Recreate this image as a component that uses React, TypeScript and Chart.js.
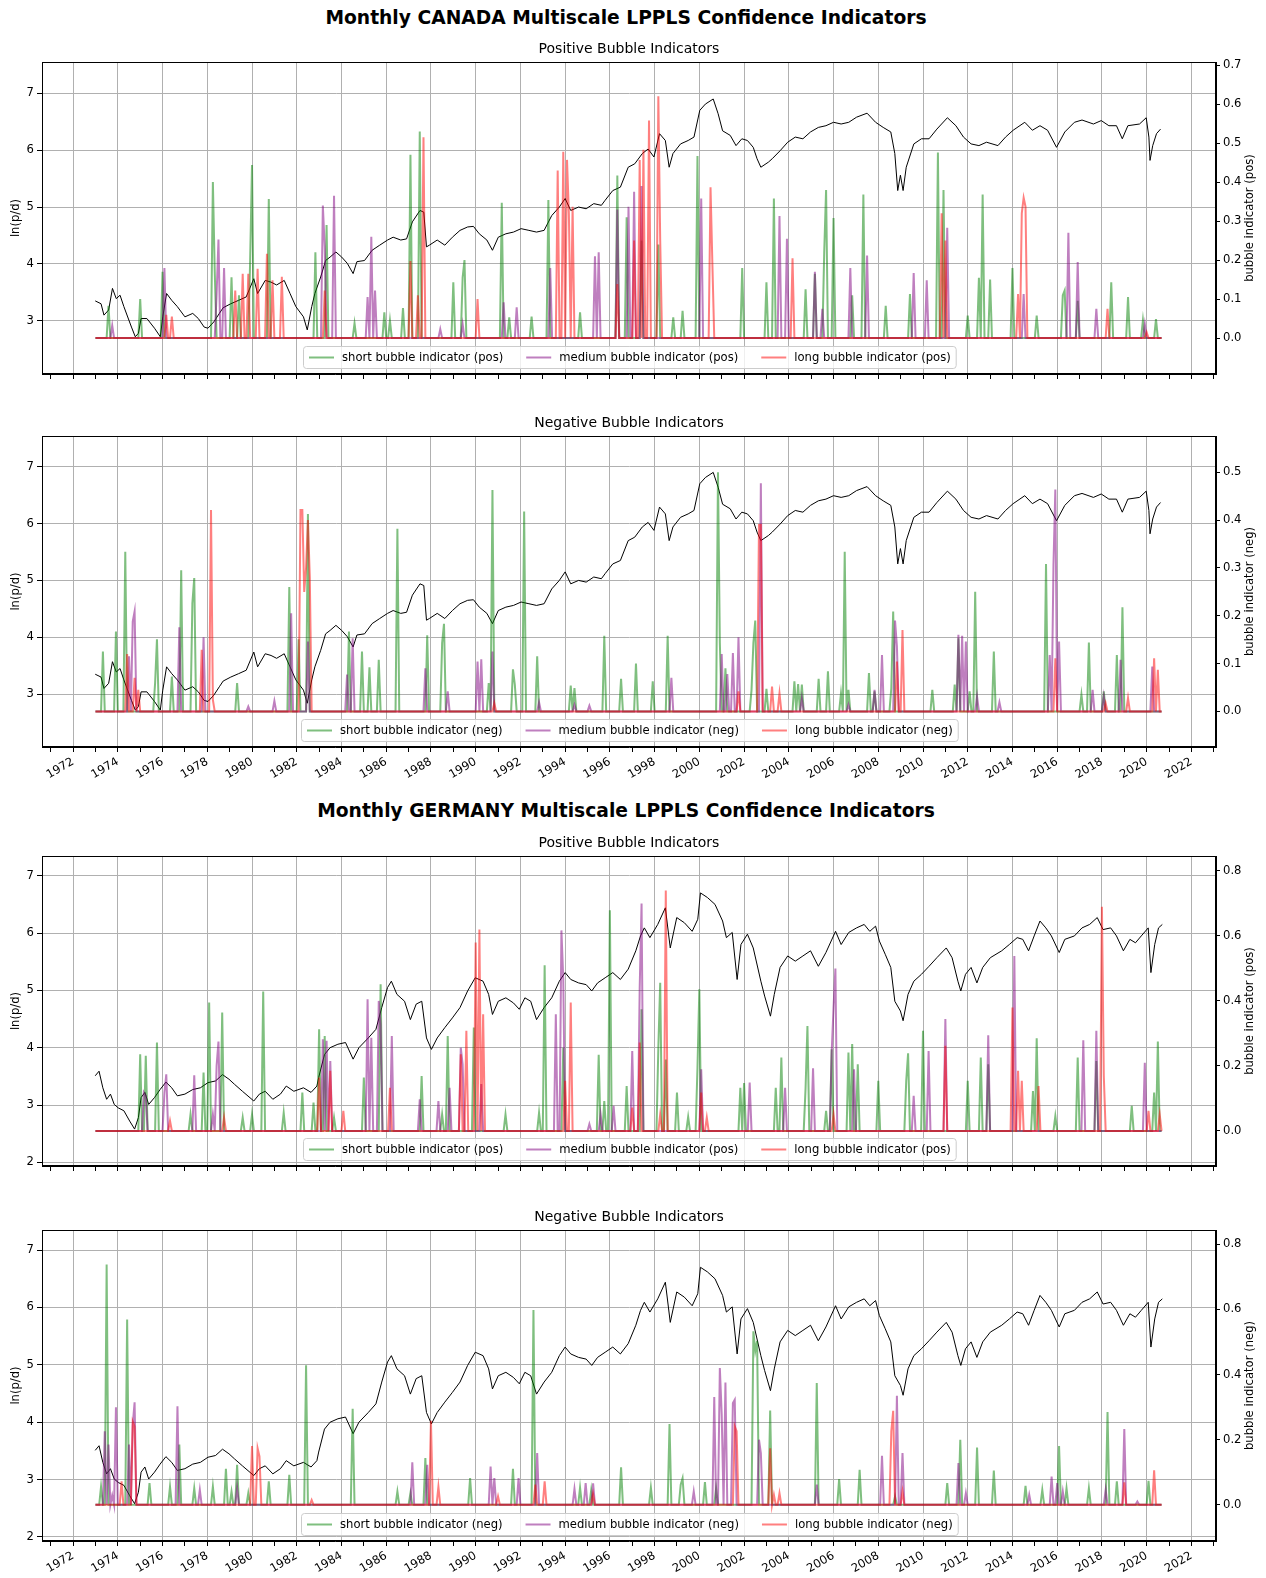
import React, { useEffect, useRef } from 'react';
import { Chart, registerables } from 'chart.js';

Chart.register(...registerables);

const FONT_FAMILY = '"DejaVu Sans", "Liberation Sans", sans-serif';
const GRID_COLOR = '#b0b0b0';
const GREEN = 'rgba(0,128,0,0.5)';
const PURPLE = 'rgba(128,0,128,0.5)';
const RED = 'rgba(255,0,0,0.5)';

const START_YEAR = 1973;
const MONTH_COUNT = 573;

const YEAR_TICKS = [1971, 1972, 1973, 1974, 1975, 1976, 1977, 1978, 1979, 1980, 1981, 1982, 1983, 1984, 1985, 1986, 1987, 1988, 1989, 1990, 1991, 1992, 1993, 1994, 1995, 1996, 1997, 1998, 1999, 2000, 2001, 2002, 2003, 2004, 2005, 2006, 2007, 2008, 2009, 2010, 2011, 2012, 2013, 2014, 2015, 2016, 2017, 2018, 2019, 2020, 2021, 2022, 2023];
const LEFT_TICKS = [2, 3, 4, 5, 6, 7];
const RIGHT_TICKS_CA_POS = [0, 0.1, 0.2, 0.3, 0.4, 0.5, 0.6, 0.7];
const RIGHT_TICKS_CA_NEG = [0, 0.1, 0.2, 0.3, 0.4, 0.5];
const RIGHT_TICKS_DE = [0, 0.2, 0.4, 0.6, 0.8];

// ln(p/d) — Canada
const CANADA_LN_PD = [
  [1972.99, 3.35], [1973.25, 3.30], [1973.38, 3.10], [1973.59, 3.19], [1973.76, 3.57], [1973.93, 3.39], [1974.10, 3.45], [1974.27, 3.25], [1974.61, 2.89], [1974.78, 2.72], [1974.92, 2.78], [1975.04, 3.04], [1975.30, 3.04], [1975.64, 2.87], [1975.90, 2.72], [1976.01, 3.07], [1976.18, 3.48], [1976.41, 3.36], [1976.66, 3.25], [1977.00, 3.07], [1977.35, 3.13], [1977.60, 3.04], [1977.86, 2.89], [1978.03, 2.87], [1978.29, 2.98], [1978.54, 3.13], [1978.71, 3.23], [1979.05, 3.30], [1979.40, 3.36], [1979.74, 3.42], [1980.08, 3.74], [1980.25, 3.48], [1980.59, 3.71], [1980.85, 3.68], [1981.10, 3.63], [1981.44, 3.71], [1981.70, 3.48], [1981.96, 3.25], [1982.30, 3.07], [1982.47, 2.84], [1982.67, 3.25], [1982.81, 3.48], [1983.07, 3.77], [1983.29, 4.06], [1983.49, 4.12], [1983.75, 4.21], [1984.01, 4.12], [1984.26, 4.01], [1984.52, 3.83], [1984.69, 4.04], [1985.03, 4.06], [1985.37, 4.24], [1985.71, 4.33], [1986.06, 4.42], [1986.31, 4.47], [1986.65, 4.42], [1986.91, 4.44], [1987.17, 4.74], [1987.51, 4.94], [1987.68, 4.91], [1987.80, 4.30], [1987.93, 4.33], [1988.28, 4.42], [1988.62, 4.33], [1988.96, 4.47], [1989.30, 4.59], [1989.64, 4.65], [1989.90, 4.66], [1990.16, 4.53], [1990.50, 4.42], [1990.75, 4.24], [1991.01, 4.47], [1991.35, 4.53], [1991.69, 4.56], [1992.03, 4.62], [1992.38, 4.59], [1992.72, 4.56], [1993.06, 4.59], [1993.40, 4.85], [1993.74, 5.00], [1994.00, 5.15], [1994.25, 4.94], [1994.60, 5.00], [1994.94, 4.97], [1995.28, 5.06], [1995.62, 5.03], [1995.79, 5.12], [1996.13, 5.29], [1996.47, 5.35], [1996.82, 5.70], [1997.11, 5.76], [1997.45, 5.94], [1997.71, 6.02], [1997.97, 5.88], [1998.22, 6.29], [1998.48, 6.17], [1998.65, 5.70], [1998.82, 5.94], [1999.16, 6.11], [1999.50, 6.17], [1999.76, 6.23], [2000.02, 6.70], [2000.27, 6.81], [2000.62, 6.90], [2000.84, 6.64], [2001.04, 6.34], [2001.38, 6.26], [2001.64, 6.08], [2001.90, 6.20], [2002.15, 6.17], [2002.41, 6.05], [2002.58, 5.85], [2002.75, 5.70], [2003.09, 5.79], [2003.26, 5.85], [2003.61, 5.99], [2003.95, 6.14], [2004.29, 6.23], [2004.63, 6.20], [2004.97, 6.32], [2005.32, 6.40], [2005.66, 6.43], [2006.00, 6.49], [2006.34, 6.46], [2006.68, 6.49], [2007.03, 6.58], [2007.50, 6.65], [2007.88, 6.49], [2008.22, 6.40], [2008.56, 6.32], [2008.74, 5.94], [2008.87, 5.29], [2008.99, 5.56], [2009.11, 5.29], [2009.25, 5.70], [2009.59, 6.11], [2009.93, 6.20], [2010.27, 6.20], [2010.62, 6.37], [2011.09, 6.57], [2011.47, 6.43], [2011.81, 6.23], [2012.15, 6.11], [2012.50, 6.08], [2012.84, 6.14], [2013.35, 6.08], [2013.69, 6.23], [2014.03, 6.35], [2014.55, 6.49], [2014.89, 6.35], [2015.23, 6.43], [2015.57, 6.35], [2015.97, 6.05], [2016.34, 6.32], [2016.77, 6.49], [2017.11, 6.53], [2017.62, 6.46], [2017.97, 6.52], [2018.31, 6.43], [2018.65, 6.43], [2018.91, 6.20], [2019.16, 6.43], [2019.68, 6.46], [2019.98, 6.57], [2020.10, 6.23], [2020.15, 5.82], [2020.27, 6.08], [2020.44, 6.29], [2020.62, 6.37],
];

// ln(p/d) — Germany
const GERMANY_LN_PD = [
  [1972.99, 3.51], [1973.16, 3.59], [1973.33, 3.30], [1973.50, 3.10], [1973.67, 3.19], [1973.84, 3.01], [1974.02, 2.95], [1974.27, 2.90], [1974.53, 2.72], [1974.75, 2.58], [1974.92, 2.78], [1975.04, 3.13], [1975.21, 3.22], [1975.38, 3.01], [1975.64, 3.13], [1975.89, 3.27], [1976.15, 3.40], [1976.41, 3.30], [1976.66, 3.16], [1977.00, 3.19], [1977.35, 3.27], [1977.69, 3.30], [1978.03, 3.39], [1978.37, 3.42], [1978.68, 3.53], [1978.97, 3.45], [1979.22, 3.36], [1979.57, 3.24], [1980.08, 3.07], [1980.33, 3.19], [1980.59, 3.24], [1980.93, 3.10], [1981.27, 3.19], [1981.53, 3.33], [1981.87, 3.24], [1982.30, 3.30], [1982.64, 3.22], [1982.90, 3.33], [1982.98, 3.48], [1983.24, 3.88], [1983.49, 4.00], [1983.84, 4.06], [1984.18, 4.09], [1984.52, 3.80], [1984.78, 4.00], [1985.20, 4.17], [1985.54, 4.32], [1985.80, 4.70], [1986.06, 5.05], [1986.23, 5.16], [1986.48, 4.93], [1986.82, 4.81], [1987.08, 4.49], [1987.34, 4.76], [1987.59, 4.81], [1987.80, 4.17], [1988.02, 3.97], [1988.28, 4.17], [1988.62, 4.35], [1988.96, 4.52], [1989.30, 4.70], [1989.64, 4.99], [1989.98, 5.22], [1990.33, 5.16], [1990.58, 4.93], [1990.75, 4.58], [1991.01, 4.81], [1991.35, 4.87], [1991.69, 4.78], [1991.95, 4.67], [1992.20, 4.87], [1992.46, 4.81], [1992.72, 4.49], [1993.06, 4.70], [1993.40, 4.87], [1993.74, 5.16], [1994.00, 5.31], [1994.25, 5.19], [1994.60, 5.13], [1994.94, 5.10], [1995.19, 4.99], [1995.45, 5.13], [1995.79, 5.22], [1996.13, 5.31], [1996.47, 5.19], [1996.82, 5.37], [1997.16, 5.69], [1997.37, 5.95], [1997.54, 6.09], [1997.79, 5.92], [1998.14, 6.15], [1998.48, 6.44], [1998.70, 5.74], [1998.99, 6.27], [1999.33, 6.18], [1999.68, 6.03], [1999.93, 6.24], [2000.05, 6.70], [2000.36, 6.62], [2000.70, 6.50], [2001.04, 6.21], [2001.21, 5.92], [2001.47, 6.01], [2001.69, 5.19], [2001.86, 5.80], [2002.15, 5.98], [2002.41, 5.74], [2002.75, 5.16], [2002.92, 4.90], [2003.18, 4.55], [2003.35, 4.93], [2003.61, 5.40], [2003.95, 5.60], [2004.29, 5.51], [2004.63, 5.60], [2004.97, 5.69], [2005.32, 5.42], [2005.66, 5.66], [2006.09, 6.03], [2006.34, 5.80], [2006.68, 6.01], [2007.03, 6.09], [2007.37, 6.15], [2007.62, 6.03], [2007.88, 6.12], [2008.05, 5.86], [2008.31, 5.63], [2008.56, 5.40], [2008.74, 4.81], [2008.99, 4.64], [2009.11, 4.47], [2009.33, 4.93], [2009.59, 5.16], [2009.93, 5.28], [2010.27, 5.42], [2010.62, 5.57], [2011.04, 5.74], [2011.30, 5.57], [2011.56, 5.16], [2011.69, 4.99], [2011.90, 5.28], [2012.15, 5.40], [2012.41, 5.13], [2012.67, 5.40], [2013.01, 5.57], [2013.52, 5.69], [2013.86, 5.80], [2014.21, 5.92], [2014.46, 5.89], [2014.72, 5.69], [2014.97, 5.95], [2015.23, 6.21], [2015.49, 6.09], [2015.74, 5.95], [2016.09, 5.66], [2016.34, 5.89], [2016.77, 5.95], [2017.11, 6.09], [2017.45, 6.15], [2017.79, 6.27], [2018.05, 6.06], [2018.39, 6.09], [2018.65, 5.95], [2018.96, 5.69], [2019.25, 5.89], [2019.50, 5.83], [2019.76, 5.95], [2020.07, 6.09], [2020.19, 5.31], [2020.36, 5.80], [2020.53, 6.09], [2020.70, 6.15],
];

// Canada positive indicators [year, value]
const CA_POS_SHORT = [
  [1973.59, 0.083], [1975.04, 0.10], [1976.01, 0.17], [1978.23, 0.40], [1978.37, 0.17], [1979.05, 0.156], [1979.40, 0.11], [1979.91, 0.20], [1980.04, 0.444], [1980.71, 0.357], [1982.81, 0.22], [1983.32, 0.29], [1984.60, 0.038], [1985.92, 0.066], [1986.14, 0.045], [1986.77, 0.077], [1987.12, 0.47], [1987.54, 0.53], [1988.99, 0.143], [1989.39, 0.155], [1989.47, 0.20], [1991.13, 0.347], [1991.49, 0.053], [1992.50, 0.055], [1993.23, 0.354], [1994.66, 0.066], [1996.30, 0.417], [1996.75, 0.31], [1997.45, 0.25], [1998.14, 0.24], [1998.82, 0.053], [1999.21, 0.07], [1999.93, 0.467], [2001.90, 0.18], [2003.01, 0.143], [2003.35, 0.358], [2004.72, 0.125], [2005.15, 0.165], [2005.57, 0.22], [2005.66, 0.38], [2006.03, 0.308], [2006.85, 0.11], [2007.32, 0.368], [2008.31, 0.083], [2009.42, 0.113], [2010.70, 0.476], [2010.92, 0.38], [2012.02, 0.058], [2012.53, 0.155], [2012.67, 0.368], [2012.97, 0.15], [2014.03, 0.18], [2015.06, 0.058], [2016.26, 0.11], [2016.34, 0.122], [2016.94, 0.096], [2018.39, 0.143], [2019.13, 0.105], [2019.85, 0.046], [2020.44, 0.049],
];
const CA_POS_MEDIUM = [
  [1973.76, 0.032], [1976.12, 0.18], [1978.40, 0.113], [1978.54, 0.253], [1978.76, 0.18], [1983.15, 0.34], [1983.29, 0.234], [1983.67, 0.365], [1985.17, 0.105], [1985.37, 0.26], [1985.54, 0.122], [1988.41, 0.023], [1989.44, 0.036], [1991.21, 0.092], [1991.83, 0.079], [1993.31, 0.18], [1995.36, 0.21], [1995.54, 0.22], [1996.30, 0.33], [1996.85, 0.337], [1997.07, 0.375], [1997.42, 0.39], [2000.05, 0.358], [2003.61, 0.313], [2003.91, 0.255], [2005.15, 0.17], [2005.49, 0.075], [2006.77, 0.18], [2007.50, 0.212], [2009.59, 0.167], [2010.19, 0.148], [2011.09, 0.283], [2014.46, 0.113], [2016.51, 0.27], [2016.94, 0.195], [2017.76, 0.075], [2019.93, 0.036],
];
const CA_POS_LONG = [
  [1976.15, 0.06], [1976.40, 0.055], [1979.22, 0.122], [1979.57, 0.165], [1979.82, 0.165], [1980.22, 0.178], [1980.68, 0.216], [1980.90, 0.148], [1981.36, 0.157], [1983.24, 0.122], [1987.12, 0.198], [1987.42, 0.11], [1987.68, 0.515], [1990.07, 0.10], [1993.66, 0.43], [1993.95, 0.478], [1994.08, 0.457], [1994.17, 0.32], [1994.34, 0.337], [1996.30, 0.139], [1997.11, 0.25], [1997.37, 0.457], [1997.49, 0.483], [1997.74, 0.558], [1998.19, 0.62], [1998.27, 0.25], [2000.48, 0.387], [2000.62, 0.19], [2004.17, 0.205], [2010.87, 0.32], [2011.04, 0.25], [2014.21, 0.113], [2014.38, 0.32], [2014.51, 0.36], [2014.58, 0.337], [2018.27, 0.075], [2020.02, 0.015],
];

// Canada negative indicators
const CA_NEG_SHORT = [
  [1973.37, 0.125], [1973.93, 0.167], [1974.34, 0.334], [1975.67, 0.059], [1975.77, 0.151], [1976.41, 0.073], [1976.87, 0.295], [1977.32, 0.226], [1977.40, 0.279], [1979.34, 0.059], [1981.65, 0.26], [1982.06, 0.151], [1982.47, 0.413], [1984.35, 0.167], [1984.90, 0.125], [1985.29, 0.092], [1985.66, 0.108], [1986.50, 0.382], [1987.82, 0.159], [1988.53, 0.143], [1988.62, 0.183], [1990.58, 0.059], [1990.72, 0.463], [1991.66, 0.088], [1991.73, 0.056], [1992.19, 0.418], [1992.72, 0.115], [1994.22, 0.054], [1994.39, 0.049], [1995.71, 0.158], [1996.51, 0.068], [1997.19, 0.10], [1997.93, 0.063], [1998.56, 0.09], [1998.62, 0.158], [2000.82, 0.50], [2000.91, 0.143], [2001.13, 0.09], [2002.32, 0.045], [2002.41, 0.143], [2002.50, 0.19], [2003.04, 0.047], [2004.29, 0.063], [2004.38, 0.057], [2004.55, 0.056], [2005.32, 0.068], [2005.74, 0.084], [2006.31, 0.038], [2006.46, 0.334], [2006.65, 0.045], [2007.57, 0.08], [2007.85, 0.042], [2008.56, 0.049], [2008.65, 0.209], [2010.39, 0.045], [2011.42, 0.056], [2011.59, 0.153], [2012.12, 0.042], [2012.32, 0.25], [2013.18, 0.125], [2015.49, 0.308], [2017.11, 0.035], [2017.40, 0.144], [2018.10, 0.042], [2018.65, 0.07], [2018.70, 0.118], [2018.91, 0.218],
];
const CA_NEG_MEDIUM = [
  [1974.48, 0.115], [1974.66, 0.188], [1974.73, 0.209], [1976.75, 0.176], [1977.81, 0.155], [1979.82, 0.01], [1980.97, 0.022], [1981.79, 0.205], [1982.47, 0.146], [1984.26, 0.077], [1984.52, 0.153], [1987.76, 0.09], [1988.79, 0.042], [1990.07, 0.104], [1990.24, 0.109], [1990.75, 0.125], [1992.80, 0.019], [1994.39, 0.014], [1995.06, 0.012], [1998.74, 0.07], [2000.96, 0.12], [2001.21, 0.078], [2001.50, 0.122], [2001.76, 0.155], [2002.75, 0.477], [2004.60, 0.028], [2006.68, 0.014], [2007.85, 0.045], [2008.19, 0.118], [2008.77, 0.19], [2008.87, 0.136], [2011.61, 0.16], [2011.73, 0.158], [2011.90, 0.146], [2012.44, 0.031], [2013.44, 0.019], [2015.69, 0.118], [2015.86, 0.306], [2015.95, 0.464], [2016.05, 0.146], [2017.59, 0.045], [2018.10, 0.031], [2018.87, 0.108], [2020.24, 0.094],
];
const CA_NEG_LONG = [
  [1974.44, 0.12], [1974.78, 0.07], [1974.90, 0.045], [1977.77, 0.129], [1978.15, 0.421], [1978.29, 0.024], [1982.13, 0.421], [1982.21, 0.421], [1982.30, 0.25], [1982.38, 0.30], [1982.47, 0.40], [1982.55, 0.28], [1990.84, 0.017], [2001.73, 0.042], [2002.67, 0.39], [2002.75, 0.39], [2003.26, 0.052], [2003.57, 0.038], [2008.82, 0.104], [2009.11, 0.17], [2015.91, 0.111], [2018.14, 0.017], [2019.13, 0.028], [2020.36, 0.111], [2020.50, 0.087],
];

// Germany positive indicators
const DE_POS_SHORT = [
  [1975.04, 0.236], [1975.21, 0.231], [1975.77, 0.272], [1977.21, 0.051], [1977.82, 0.18], [1978.10, 0.395], [1978.64, 0.364], [1979.57, 0.041], [1980.04, 0.051], [1980.54, 0.429], [1981.44, 0.056], [1982.21, 0.118], [1982.71, 0.087], [1982.98, 0.313], [1983.24, 0.292], [1983.63, 0.041], [1985.00, 0.164], [1985.77, 0.451], [1987.56, 0.169], [1988.53, 0.051], [1988.76, 0.292], [1989.93, 0.318], [1991.35, 0.051], [1992.80, 0.056], [1993.11, 0.51], [1993.88, 0.256], [1995.54, 0.234], [1995.71, 0.092], [1996.00, 0.679], [1996.75, 0.138], [1997.45, 0.374], [1998.14, 0.256], [1998.22, 0.456], [1998.48, 0.22], [1998.96, 0.118], [1999.50, 0.043], [1999.93, 0.195], [2000.02, 0.436], [2001.86, 0.133], [2001.98, 0.147], [2003.44, 0.133], [2003.64, 0.226], [2004.72, 0.133], [2004.84, 0.323], [2005.66, 0.062], [2005.91, 0.251], [2006.68, 0.241], [2006.85, 0.267], [2007.11, 0.205], [2007.97, 0.154], [2009.25, 0.154], [2009.37, 0.239], [2010.02, 0.308], [2012.02, 0.154], [2012.58, 0.226], [2012.89, 0.205], [2014.89, 0.123], [2015.09, 0.285], [2015.88, 0.046], [2016.94, 0.226], [2017.76, 0.215], [2019.30, 0.077], [2020.32, 0.118], [2020.53, 0.275],
];
const DE_POS_MEDIUM = [
  [1975.13, 0.118], [1975.21, 0.108], [1976.06, 0.118], [1976.20, 0.174], [1977.41, 0.171], [1978.29, 0.051], [1978.40, 0.20], [1978.54, 0.275], [1983.15, 0.282], [1983.32, 0.277], [1983.49, 0.215], [1985.15, 0.405], [1985.37, 0.287], [1985.63, 0.40], [1985.71, 0.328], [1986.23, 0.292], [1987.51, 0.097], [1988.36, 0.092], [1988.87, 0.133], [1989.30, 0.256], [1989.39, 0.205], [1990.29, 0.144], [1993.57, 0.359], [1993.83, 0.617], [1993.95, 0.467], [1995.11, 0.021], [1995.59, 0.051], [1996.13, 0.077], [1997.04, 0.246], [1997.37, 0.44], [1997.45, 0.70], [2000.10, 0.19], [2002.21, 0.149], [2003.81, 0.133], [2005.11, 0.193], [2005.91, 0.241], [2006.00, 0.38], [2006.09, 0.50], [2006.94, 0.19], [2009.59, 0.108], [2010.22, 0.246], [2010.96, 0.344], [2012.92, 0.294], [2014.12, 0.538], [2017.20, 0.279], [2017.79, 0.308], [2019.93, 0.21],
];
const DE_POS_LONG = [
  [1976.32, 0.031], [1978.71, 0.041], [1983.03, 0.164], [1983.49, 0.185], [1984.09, 0.062], [1986.14, 0.133], [1989.30, 0.236], [1989.61, 0.308], [1989.98, 0.58], [1990.19, 0.62], [1990.33, 0.359], [1994.00, 0.154], [1994.25, 0.395], [1997.03, 0.072], [1997.37, 0.272], [1998.27, 0.051], [1998.51, 0.74], [2000.10, 0.118], [2000.36, 0.041], [2006.00, 0.051], [2010.96, 0.262], [2014.00, 0.38], [2014.29, 0.185], [2014.38, 0.154], [2015.15, 0.138], [2018.00, 0.69], [2018.10, 0.17], [2020.10, 0.062], [2020.62, 0.051],
];

// Germany negative indicators
const DE_NEG_SHORT = [
  [1973.25, 0.056], [1973.50, 0.738], [1974.44, 0.569], [1975.42, 0.067], [1976.37, 0.056], [1976.75, 0.185], [1977.40, 0.051], [1978.25, 0.056], [1978.81, 0.111], [1979.09, 0.041], [1979.34, 0.123], [1979.82, 0.036], [1980.76, 0.072], [1981.70, 0.092], [1982.44, 0.429], [1984.49, 0.295], [1986.48, 0.041], [1987.05, 0.036], [1987.73, 0.144], [1989.78, 0.082], [1991.69, 0.111], [1992.58, 0.598], [1994.68, 0.053], [1995.14, 0.046], [1996.51, 0.115], [1997.83, 0.053], [1998.65, 0.248], [1999.13, 0.062], [1999.21, 0.082], [2000.22, 0.07], [2000.74, 0.051], [2002.38, 0.533], [2002.46, 0.472], [2002.55, 0.503], [2003.15, 0.29], [2005.23, 0.374], [2006.26, 0.079], [2007.16, 0.108], [2008.77, 0.026], [2011.09, 0.067], [2011.69, 0.20], [2012.41, 0.176], [2013.18, 0.105], [2014.55, 0.058], [2015.32, 0.046], [2016.05, 0.181], [2016.43, 0.051], [2017.45, 0.051], [2018.22, 0.285], [2018.65, 0.072], [2020.10, 0.074],
];
const DE_NEG_MEDIUM = [
  [1973.42, 0.226], [1973.55, 0.185], [1973.71, 0.029], [1973.93, 0.30], [1974.48, 0.185], [1974.66, 0.246], [1974.75, 0.315], [1976.66, 0.303], [1977.69, 0.046], [1979.31, 0.053], [1987.17, 0.131], [1987.85, 0.123], [1990.67, 0.118], [1990.80, 0.082], [1991.95, 0.082], [1992.72, 0.159], [1994.39, 0.049], [1994.90, 0.067], [1995.28, 0.066], [1999.76, 0.041], [2000.70, 0.331], [2000.91, 0.42], [2001.04, 0.277], [2001.18, 0.376], [2001.52, 0.313], [2001.59, 0.323], [2002.67, 0.20], [2002.75, 0.159], [2005.28, 0.062], [2008.19, 0.151], [2008.87, 0.335], [2009.08, 0.159], [2011.61, 0.128], [2011.90, 0.036], [2014.75, 0.031], [2015.71, 0.087], [2016.00, 0.067], [2016.22, 0.041], [2018.14, 0.046], [2018.96, 0.233], [2019.59, 0.01],
];
const DE_NEG_LONG = [
  [1974.19, 0.072], [1974.70, 0.256], [1974.78, 0.241], [1979.99, 0.181], [1980.25, 0.174], [1980.33, 0.149], [1982.64, 0.015], [1987.97, 0.258], [1988.36, 0.056], [1991.01, 0.026], [1992.63, 0.062], [1993.06, 0.072], [1995.28, 0.033], [2001.56, 0.241], [2001.64, 0.226], [2003.15, 0.174], [2003.35, 0.031], [2003.57, 0.036], [2008.60, 0.226], [2008.70, 0.289], [2009.11, 0.041], [2018.96, 0.069], [2020.32, 0.106],
];

// Builds the monthly series (zero in months without an indicator reading)
function toMonthly(spikes) {
  const vals = new Array(MONTH_COUNT).fill(0);
  for (const [yr, v] of spikes) {
    const i = Math.round((yr - START_YEAR) * 12);
    if (i >= 0 && i < MONTH_COUNT) vals[i] = Math.max(vals[i], v);
  }
  return vals.map((v, i) => ({ x: START_YEAR + i / 12, y: v }));
}

const PANELS = [
  { key: 'ca-pos', top: 41, height: 343, subtitle: 'Positive Bubble Indicators', lnpd: CANADA_LN_PD, short: CA_POS_SHORT, medium: CA_POS_MEDIUM, long: CA_POS_LONG, sign: 'pos', leftMin: 2.065, leftMax: 7.55, rightMin: -0.092, rightMax: 0.708, rightTicks: RIGHT_TICKS_CA_POS, xAxisHeight: 10, showXLabels: false },
  { key: 'ca-neg', top: 415, height: 382, subtitle: 'Negative Bubble Indicators', lnpd: CANADA_LN_PD, short: CA_NEG_SHORT, medium: CA_NEG_MEDIUM, long: CA_NEG_LONG, sign: 'neg', leftMin: 2.07, leftMax: 7.54, rightMin: -0.0745, rightMax: 0.576, rightTicks: RIGHT_TICKS_CA_NEG, xAxisHeight: 50, showXLabels: true },
  { key: 'de-pos', top: 835, height: 341, subtitle: 'Positive Bubble Indicators', lnpd: GERMANY_LN_PD, short: DE_POS_SHORT, medium: DE_POS_MEDIUM, long: DE_POS_LONG, sign: 'pos', leftMin: 1.936, leftMax: 7.344, rightMin: -0.108, rightMax: 0.846, rightTicks: RIGHT_TICKS_DE, xAxisHeight: 10, showXLabels: false },
  { key: 'de-neg', top: 1209, height: 369, subtitle: 'Negative Bubble Indicators', lnpd: GERMANY_LN_PD, short: DE_NEG_SHORT, medium: DE_NEG_MEDIUM, long: DE_NEG_LONG, sign: 'neg', leftMin: 1.93, leftMax: 7.35, rightMin: -0.111, rightMax: 0.844, rightTicks: RIGHT_TICKS_DE, xAxisHeight: 37, showXLabels: true },
];

const SMALL_FONT = { family: FONT_FAMILY, size: 11.6 };

function Panel({ cfg }) {
  const ref = useRef(null);
  useEffect(() => {
    const canvas = ref.current;
    const legendLabels = [
      `short bubble indicator (${cfg.sign})`,
      `medium bubble indicator (${cfg.sign})`,
      `long bubble indicator (${cfg.sign})`,
    ];
    const legendColors = [GREEN, PURPLE, RED];

    const decor = {
      id: 'decor',
      afterDatasetsDraw(chart) {
        const { ctx, chartArea: a } = chart;
        ctx.save();
        ctx.strokeStyle = '#000';
        ctx.lineWidth = 1;
        ctx.strokeRect(Math.round(a.left) + 0.5, Math.round(a.top) + 0.5, Math.round(a.right - a.left) - 1, Math.round(a.bottom - a.top) - 1);

        ctx.font = `11.6px ${FONT_FAMILY}`;
        const widths = legendLabels.map((l) => ctx.measureText(l).width);
        const padX = 5.5, sample = 25, gapST = 8, gapE = 23, boxH = 22;
        const total = padX * 2 + widths.reduce((s, w) => s + w, 0) + 3 * (sample + gapST) + 2 * gapE;
        const cx = (a.left + a.right) / 2;
        const bx = Math.round(cx - total / 2) + 0.5;
        const by = Math.round(a.bottom - 6 - boxH) + 0.5;
        ctx.beginPath();
        if (ctx.roundRect) ctx.roundRect(bx, by, total, boxH, 3);
        else ctx.rect(bx, by, total, boxH);
        ctx.fillStyle = 'rgba(255,255,255,0.8)';
        ctx.fill();
        ctx.strokeStyle = '#cccccc';
        ctx.lineWidth = 1;
        ctx.stroke();
        let x = bx + padX;
        const cy = by + boxH / 2;
        ctx.textBaseline = 'middle';
        ctx.textAlign = 'left';
        for (let i = 0; i < 3; i++) {
          ctx.beginPath();
          ctx.strokeStyle = legendColors[i];
          ctx.lineWidth = 2;
          ctx.moveTo(x, cy);
          ctx.lineTo(x + sample, cy);
          ctx.stroke();
          x += sample + gapST;
          ctx.fillStyle = '#000';
          ctx.fillText(legendLabels[i], x, cy + 0.5);
          x += widths[i] + gapE;
        }
        ctx.restore();
      },
      afterDraw(chart) {
        const { ctx, chartArea: a } = chart;
        const midY = (a.top + a.bottom) / 2;
        ctx.save();
        ctx.font = `11.6px ${FONT_FAMILY}`;
        ctx.fillStyle = '#000';
        ctx.textAlign = 'center';
        ctx.textBaseline = 'middle';
        ctx.translate(15.5, midY);
        ctx.rotate(-Math.PI / 2);
        ctx.fillText('ln(p/d)', 0, 0);
        ctx.restore();
        ctx.save();
        ctx.font = `11.6px ${FONT_FAMILY}`;
        ctx.fillStyle = '#000';
        ctx.textAlign = 'center';
        ctx.textBaseline = 'middle';
        ctx.translate(1250, midY);
        ctx.rotate(-Math.PI / 2);
        ctx.fillText(`bubble indicator (${cfg.sign})`, 0, 0);
        ctx.restore();
      },
    };

    const chart = new Chart(canvas, {
      type: 'line',
      data: {
        datasets: [
          { label: 'ln(p/d)', data: cfg.lnpd.map(([x, y]) => ({ x, y })), borderColor: '#000', borderWidth: 1, pointRadius: 0, yAxisID: 'y', order: 4, tension: 0 },
          { label: legendLabels[0], data: toMonthly(cfg.short), borderColor: GREEN, borderWidth: 2, pointRadius: 0, yAxisID: 'y1', order: 3, tension: 0 },
          { label: legendLabels[1], data: toMonthly(cfg.medium), borderColor: PURPLE, borderWidth: 2, pointRadius: 0, yAxisID: 'y1', order: 2, tension: 0 },
          { label: legendLabels[2], data: toMonthly(cfg.long), borderColor: RED, borderWidth: 2, pointRadius: 0, yAxisID: 'y1', order: 1, tension: 0 },
        ],
      },
      options: {
        responsive: false,
        animation: false,
        events: [],
        layout: { padding: 0 },
        plugins: {
          legend: { display: false },
          tooltip: { enabled: false },
          title: {
            display: true,
            text: cfg.subtitle,
            fullSize: false,
            color: '#000',
            font: { family: FONT_FAMILY, size: 14, weight: 'normal', lineHeight: 1.2 },
            padding: { top: 0, bottom: 4.2 },
          },
        },
        scales: {
          x: {
            type: 'linear',
            position: 'bottom',
            min: 1970.61,
            max: 2023.1,
            afterBuildTicks: (s) => { s.ticks = YEAR_TICKS.map((v) => ({ value: v })); },
            afterFit: (s) => { s.height = cfg.xAxisHeight; },
            grid: {
              color: (c) => (c.tick && c.tick.value % 2 === 0 ? GRID_COLOR : 'rgba(0,0,0,0)'),
              lineWidth: 1,
              tickLength: 5,
              tickColor: '#000',
            },
            border: { display: true, color: '#000', width: 1 },
            ticks: {
              display: cfg.showXLabels,
              autoSkip: false,
              minRotation: 30,
              maxRotation: 30,
              padding: 3,
              color: '#000',
              font: SMALL_FONT,
              callback: (v) => (v % 2 === 0 ? String(v) : ''),
            },
          },
          y: {
            type: 'linear',
            position: 'left',
            min: cfg.leftMin,
            max: cfg.leftMax,
            afterBuildTicks: (s) => { s.ticks = LEFT_TICKS.filter((v) => v >= cfg.leftMin && v <= cfg.leftMax).map((v) => ({ value: v })); },
            afterFit: (s) => { s.width = 42; },
            grid: { color: GRID_COLOR, lineWidth: 1, tickLength: 5, tickColor: '#000' },
            border: { display: true, color: '#000', width: 1 },
            ticks: { color: '#000', font: SMALL_FONT, padding: 3, callback: (v) => String(v) },
          },
          y1: {
            type: 'linear',
            position: 'right',
            min: cfg.rightMin,
            max: cfg.rightMax,
            afterBuildTicks: (s) => { s.ticks = cfg.rightTicks.map((v) => ({ value: v })); },
            afterFit: (s) => { s.width = 50; },
            grid: { drawOnChartArea: false, tickLength: 4, tickColor: '#000' },
            border: { display: true, color: '#000', width: 1 },
            ticks: { color: '#000', font: SMALL_FONT, padding: 3, callback: (v) => Number(v).toFixed(1) },
          },
        },
      },
      plugins: [decor],
    });
    return () => chart.destroy();
  }, [cfg]);

  return (
    <canvas
      ref={ref}
      width={1266}
      height={cfg.height}
      style={{ position: 'absolute', left: 0, top: cfg.top, width: 1266, height: cfg.height }}
    />
  );
}

const titleStyle = {
  position: 'absolute',
  left: 0,
  width: 1252,
  textAlign: 'center',
  fontFamily: FONT_FAMILY,
  fontWeight: 'bold',
  fontSize: '18.7px',
  lineHeight: '22px',
  color: '#000',
  whiteSpace: 'nowrap',
};

export default function App() {
  useEffect(() => {
    document.body.style.margin = '0';
  }, []);
  return (
    <div style={{ position: 'absolute', left: 0, top: 0, width: 1266, height: 1578, background: '#fff', overflow: 'hidden' }}>
      <div style={{ ...titleStyle, top: 7 }}>Monthly CANADA Multiscale LPPLS Confidence Indicators</div>
      <div style={{ ...titleStyle, top: 800 }}>Monthly GERMANY Multiscale LPPLS Confidence Indicators</div>
      {PANELS.map((p) => (
        <Panel key={p.key} cfg={p} />
      ))}
    </div>
  );
}
